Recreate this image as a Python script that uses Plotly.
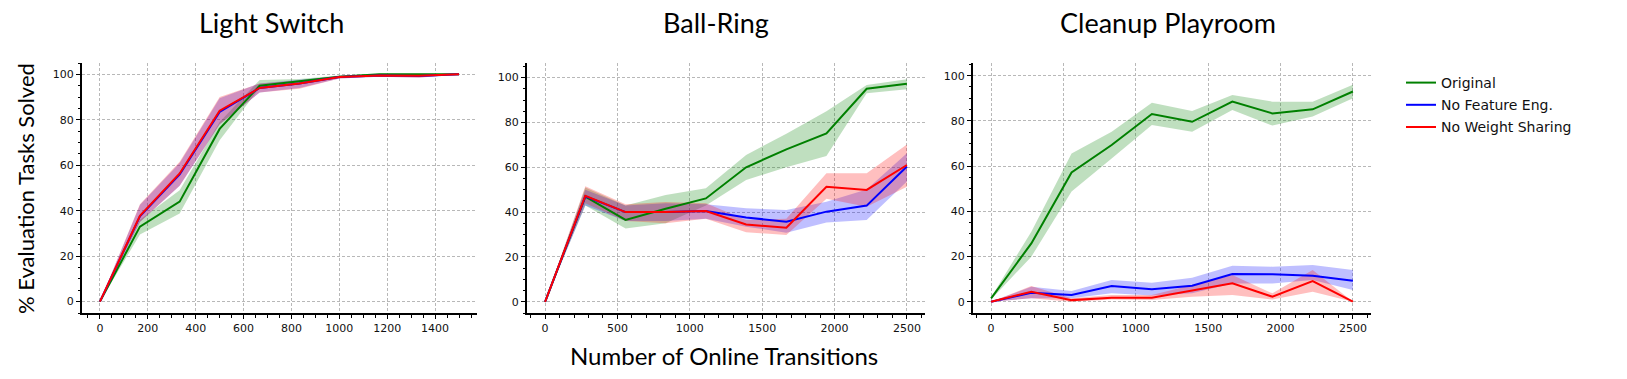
import plotly.graph_objects as go

W, H = 1627, 379

# ---------------- data ----------------
titles = ["Light Switch", "Ball-Ring", "Cleanup Playroom"]
series_names = ["Original", "No Feature Eng.", "No Weight Sharing"]
series_colors = ["#008000", "#0000ff", "#ff0000"]
band_colors = ["rgba(0,128,0,0.25)", "rgba(0,0,255,0.25)", "rgba(255,0,0,0.25)"]

# Light Switch
ls_x = [0, 167, 333, 500, 667, 833, 1000, 1167, 1333, 1500]
ls_orig = [0, 33, 44, 76, 95, 97, 99, 100, 100, 100]
ls_orig_lo = [0, 29.5, 38.8, 71, 94, 95.5, 98.5, 99.6, 99.6, 100]
ls_orig_hi = [0, 36, 49, 79, 97.5, 98, 99.5, 100.3, 100.3, 100]
ls_nofe = [0, 37.5, 56, 83.5, 94, 96, 98.8, 99.5, 99.3, 100]
ls_nofe_lo = [0, 35, 51, 78, 92, 94, 98.2, 99, 98.6, 100]
ls_nofe_hi = [0, 42.5, 61, 89.5, 96, 97.5, 99.3, 100, 99.8, 100]
ls_nows = [0, 37.8, 56.4, 84, 94, 96, 98.8, 99.5, 99.4, 100]
ls_nows_lo = [0, 35, 51, 78, 92, 93.7, 98.2, 99, 98.5, 100]
ls_nows_hi = [0, 42.9, 61.5, 90, 96, 97.3, 99.3, 100, 99.8, 100]

# Ball-Ring
br_x = [0, 278, 556, 833, 1111, 1389, 1667, 1944, 2222, 2500]
br_orig = [0, 46.9, 36.5, 41.5, 46.1, 60, 68, 75.1, 95, 97.2]
br_orig_lo = [0, 43, 32.7, 35, 43, 54.3, 60, 65, 93, 94.8]
br_orig_hi = [0, 51, 43, 47.6, 50.6, 65.5, 75, 85, 96.7, 99.3]
br_nofe = [0, 47, 40, 40, 40.5, 37.6, 35.7, 40.2, 42.9, 60.3]
br_nofe_lo = [0, 43, 36, 36, 37, 33.5, 30.8, 35.4, 36.5, 53.6]
br_nofe_hi = [0, 50, 43, 44, 43.5, 41.7, 40.9, 44.6, 50.1, 66.2]
br_nows = [0, 47.3, 40, 40, 40.5, 34.5, 33, 51.3, 49.9, 61]
br_nows_lo = [0, 44, 36, 35, 37, 31, 29.8, 46, 42.4, 51.3]
br_nows_hi = [0, 51.5, 43.5, 44.5, 44, 36.5, 37, 57.3, 57.3, 70.2]

# Cleanup Playroom
cp_x = [0, 278, 556, 833, 1111, 1389, 1667, 1944, 2222, 2500]
cp_orig = [1.5, 25.8, 57.2, 69.3, 83, 79.6, 88.5, 83.3, 85.1, 93]
cp_orig_lo = [1, 19.9, 48.7, 63.4, 78.2, 75.2, 84.8, 77.9, 81.9, 90]
cp_orig_hi = [2, 31, 65.6, 75.2, 88, 84.4, 91.4, 88.5, 88.5, 96]
cp_nofe = [0, 4, 3, 6.9, 5.5, 7.1, 12.2, 12.1, 11.5, 9.3]
cp_nofe_lo = [0, 1.5, 1.5, 3.7, 2.7, 3.7, 8.1, 8.1, 9.6, 5.2]
cp_nofe_hi = [0, 6.6, 4.7, 9.6, 8.4, 10.6, 15.9, 15.5, 16.2, 14]
cp_nows = [0, 4.4, 0.7, 1.8, 1.8, 4.9, 8.1, 2.2, 9.1, 0]
cp_nows_lo = [0, 1.5, 0, 1, 0.7, 2.2, 3, 1, 4.4, 0]
cp_nows_hi = [0, 6.9, 1.5, 3, 3, 7.4, 11.8, 3.7, 14, 0]

y_ticks = [0, 20, 40, 60, 80, 100]

panels = [
    (ls_x, [(ls_orig, ls_orig_lo, ls_orig_hi), (ls_nofe, ls_nofe_lo, ls_nofe_hi), (ls_nows, ls_nows_lo, ls_nows_hi)]),
    (br_x, [(br_orig, br_orig_lo, br_orig_hi), (br_nofe, br_nofe_lo, br_nofe_hi), (br_nows, br_nows_lo, br_nows_hi)]),
    (cp_x, [(cp_orig, cp_orig_lo, cp_orig_hi), (cp_nofe, cp_nofe_lo, cp_nofe_hi), (cp_nows, cp_nows_lo, cp_nows_hi)]),
]

# ---------------- layout geometry ----------------
x_domains_px = [(82, 477), (527, 925), (973, 1371)]
y_dom = [1 - 313 / H, 1 - 63 / H]
x_ranges = [[-75, 1575], [-125, 2625], [-125, 2625]]
x_dticks = [200, 500, 500]
x_minor = [50, 100, 100]
y_ranges = [[-5, 105], [-5, 106.5], [-5, 105.6]]
title_cx = [271, 716, 1168]

fig = go.Figure()

for p, (xs, sers) in enumerate(panels):
    ax = "" if p == 0 else str(p + 1)
    for s, (mid, lo, hi) in enumerate(sers):
        fig.add_trace(go.Scatter(
            x=list(xs) + list(xs)[::-1], y=list(hi) + list(lo)[::-1],
            fill="toself", fillcolor=band_colors[s], line=dict(width=0),
            mode="lines", hoverinfo="skip", showlegend=False,
            xaxis="x" + ax, yaxis="y" + ax))
    for s, (mid, lo, hi) in enumerate(sers):
        fig.add_trace(go.Scatter(
            x=xs, y=mid, mode="lines",
            line=dict(color=series_colors[s], width=2),
            name=series_names[s], legendgroup=series_names[s],
            showlegend=(p == 0),
            xaxis="x" + ax, yaxis="y" + ax))

layout = dict(
    template="none",
    width=W, height=H,
    margin=dict(l=0, r=0, t=0, b=0, pad=0),
    paper_bgcolor="white", plot_bgcolor="white",
    font=dict(family="DejaVu Sans", size=11, color="black"),
    legend=dict(x=1401 / W, y=1 - 67 / H, xanchor="left", yanchor="top",
                font=dict(family="DejaVu Sans", size=14, color="#111"),
                tracegroupgap=1, bgcolor="rgba(0,0,0,0)", borderwidth=0),
    showlegend=True,
)

for p in range(3):
    k = "" if p == 0 else str(p + 1)
    x0, x1 = x_domains_px[p]
    common = dict(
        automargin=False,
        showline=True, linecolor="black", linewidth=2,
        ticks="outside", ticklen=4, tickwidth=1.3, tickcolor="black",
        showgrid=True, gridcolor="#b8b8b8", gridwidth=0.8, griddash="3px,2px",
        zeroline=False, tickfont=dict(family="DejaVu Sans", size=11, color="#111"),
    )
    layout["xaxis" + k] = dict(
        domain=[x0 / W, x1 / W], range=x_ranges[p], anchor="y" + k,
        dtick=x_dticks[p], tick0=0,
        minor=dict(dtick=x_minor[p], tick0=0, ticks="outside", ticklen=2.5,
                   tickwidth=1, tickcolor="black", showgrid=False),
        **common)
    layout["yaxis" + k] = dict(
        domain=y_dom, range=y_ranges[p], anchor="x" + k,
        tickvals=y_ticks,
        minor=dict(dtick=5, tick0=0, ticks="outside", ticklen=2.5,
                   tickwidth=1, tickcolor="black", showgrid=False),
        **common)

annotations = []
for p in range(3):
    annotations.append(dict(text=titles[p], x=title_cx[p] / W, y=1 - 23 / H,
                            xref="paper", yref="paper", showarrow=False,
                            xanchor="center", yanchor="middle",
                            font=dict(family="Lato", size=27, color="black")))
annotations.append(dict(text="Number of Online Transitions", x=724 / W, y=1 - 355 / H,
                        xref="paper", yref="paper", showarrow=False,
                        xanchor="center", yanchor="middle",
                        font=dict(family="Lato", size=24, color="black")))
annotations.append(dict(text="% Evaluation Tasks Solved", x=25 / W, y=1 - 189 / H,
                        xref="paper", yref="paper", showarrow=False, textangle=-90,
                        xanchor="center", yanchor="middle",
                        font=dict(family="Lato", size=22, color="black")))
layout["annotations"] = annotations

fig.update_layout(**layout)
fig.write_html("out.html",
               config={"displayModeBar": False},
               post_script="document.body.style.margin='0';document.body.style.padding='0';")
